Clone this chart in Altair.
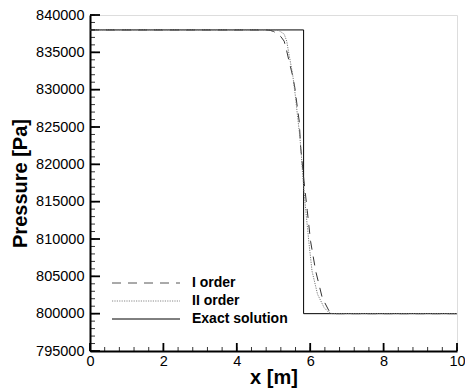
import altair as alt
import pandas as pd

# ---- data ----
exact_x = [0, 5.82, 5.82, 10]
exact_p = [838000, 838000, 800000, 800000]

o1_x = [0, 4.8, 4.9, 5.0, 5.1, 5.2, 5.29, 5.35, 5.42, 5.51, 5.58, 5.65, 5.70, 5.74,
        5.83, 5.92, 6.01, 6.15, 6.33, 6.51, 6.7, 10]
o1_p = [838000, 838000, 837950, 837800, 837500, 837100, 836500, 835400, 833900, 832100,
        830300, 827600, 825800, 822300, 817800, 813800, 809700, 805700, 802100, 800400,
        800000, 800000]

o2_x = [0, 5.05, 5.15, 5.29, 5.36, 5.42, 5.52, 5.59, 5.65, 5.72, 5.77, 5.80, 5.88,
        5.97, 6.05, 6.20, 6.38, 6.51, 6.6, 10]
o2_p = [838000, 838000, 837900, 837450, 836500, 834800, 832100, 829400, 826700, 823600,
        820500, 818200, 813800, 809300, 805700, 802600, 800800, 800150, 800000, 800000]

legend_labels = ["I order", "II order", "Exact solution"]

x_major = [0, 2, 4, 6, 8, 10]
x_minor = [round(i * 0.4, 2) for i in range(26)]
y_major = list(range(795000, 840001, 5000))
y_minor = list(range(795000, 840001, 1000))

W, H = 367, 336
FONT = "Liberation Sans"

xs = alt.Scale(domain=[0, 10], nice=False, zero=False)
ys = alt.Scale(domain=[795000, 840000], nice=False, zero=False)


def series(xv, pv):
    return pd.DataFrame({"x": xv, "p": pv, "o": list(range(len(xv)))})


xax = alt.Axis(title="x [m]", values=x_major, ticks=False, grid=False,
               domainWidth=2, domainColor="black", labelFont=FONT, labelFontSize=14.5,
               labelColor="black", labelPadding=3, titleFont=FONT, titleFontSize=20,
               titleFontWeight="bold", titleColor="black", titleBaseline="alphabetic",
               titleY=32, labelFlush=False)
yax = alt.Axis(title="Pressure [Pa]", values=y_major, ticks=False, grid=False,
               domainWidth=2, domainColor="black", labelFont=FONT, labelFontSize=14.5,
               labelColor="black", labelPadding=6, titleFont=FONT, titleFontSize=20,
               titleFontWeight="bold", titleColor="black", titlePadding=5,
               format="d", labelFlush=False)


def X(f):
    return alt.X(f, scale=xs, axis=xax)


def Y(f):
    return alt.Y(f, scale=ys, axis=yax)


exact = alt.Chart(series(exact_x, exact_p)).mark_line(color="black", strokeWidth=1).encode(
    x=X("x:Q"), y=Y("p:Q"), order="o:Q")
o1 = alt.Chart(series(o1_x, o1_p)).mark_line(color="#333333", strokeWidth=1,
                                             strokeDash=[9, 7]).encode(
    x=X("x:Q"), y=Y("p:Q"), order="o:Q")
o2 = alt.Chart(series(o2_x, o2_p)).mark_line(color="#777777", strokeWidth=1,
                                             strokeDash=[1.2, 1.2]).encode(
    x=X("x:Q"), y=Y("p:Q"), order="o:Q")


# inward ticks
def yticks(vals, length, width):
    return alt.Chart(pd.DataFrame({"p": vals})).mark_rule(
        color="black", strokeWidth=width).encode(
        y=Y("p:Q"), x=alt.value(0), x2=alt.value(length))


def xticks(vals, length, width):
    return alt.Chart(pd.DataFrame({"x": vals})).mark_rule(
        color="black", strokeWidth=width).encode(
        x=X("x:Q"), y=alt.value(H), y2=alt.value(H - length))


ticks = [yticks(y_minor, 5, 0.8), yticks(y_major, 10, 1.8),
         xticks(x_minor, 4, 0.8), xticks(x_major, 8, 1.8)]

# legend
leg_y = [268, 286, 304]
leg_styles = [dict(color="#555555", strokeDash=[9, 7]),
              dict(color="#888888", strokeDash=[1.2, 1.2]),
              dict(color="black")]
legend_layers = []
for lab, yy, st in zip(legend_labels, leg_y, leg_styles):
    legend_layers.append(
        alt.Chart(pd.DataFrame({"l": [lab]})).mark_rule(strokeWidth=1, **st).encode(
            x=alt.value(22), x2=alt.value(90), y=alt.value(yy)))
    legend_layers.append(
        alt.Chart(pd.DataFrame({"l": [lab]})).mark_text(
            align="left", baseline="middle", font=FONT, fontSize=14,
            fontWeight="bold", color="black").encode(
            x=alt.value(102), y=alt.value(yy), text="l:N"))

chart = alt.layer(exact, o1, o2, *ticks, *legend_layers).properties(
    width=W, height=H,
    autosize=alt.AutoSizeParams(type="none"),
    padding={"left": 82, "top": 7, "right": 8, "bottom": 37},
).configure_view(stroke=None).configure(background="white")

chart.save("out.html", embed_options={"renderer": "svg", "actions": False})
